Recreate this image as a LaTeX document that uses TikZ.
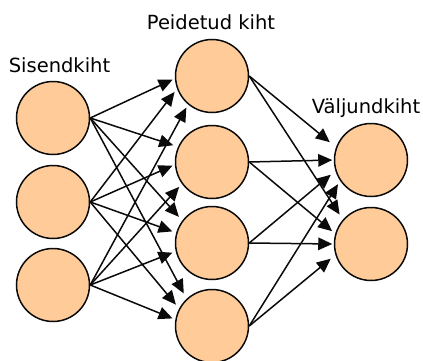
\documentclass[tikz,border=0pt]{standalone}
\usepackage{fontspec}
\setmainfont{DejaVu Sans}
\usetikzlibrary{arrows.meta}
\definecolor{peach}{RGB}{255,204,153}
\definecolor{ink}{RGB}{10,10,10}
\begin{document}
\begin{tikzpicture}[x=1pt,y=1pt,
  neuron/.style={circle,draw=ink,line width=1.5pt,fill=peach,minimum size=73pt,inner sep=0pt},
  conn/.style={draw=ink,line width=1.5pt,-{Triangle[length=14pt,width=12.5pt]}},
  lbl/.style={anchor=base,font=\fontsize{19.5}{22}\selectfont,inner sep=0pt}]
\useasboundingbox (0,0) rectangle (423,360);
% input layer
\node[neuron] (i1) at (53,242) {};
\node[neuron] (i2) at (53,158) {};
\node[neuron] (i3) at (53,75) {};
% hidden layer
\node[neuron] (h1) at (212,284) {};
\node[neuron] (h2) at (212,198) {};
\node[neuron] (h3) at (212,117) {};
\node[neuron] (h4) at (212,34) {};
% output layer
\node[neuron] (o1) at (371,200) {};
\node[neuron] (o2) at (371,116) {};
% labels
\node[lbl] (ls) at (59.5,288) {Sisendkiht};
\node[lbl] (lp) at (211,331) {Peidetud kiht};
\node[lbl] (lv) at (366,247) {Väljundkiht};
% input -> hidden
\draw[conn,shorten >=2.5pt] (i1.east) -- (h1.184);
\draw[conn,shorten >=4pt]   (i2.east) -- (h1.200);
\draw[conn,shorten >=3.5pt] (i3.east) -- (h1.230);
\draw[conn,shorten >=5pt]   (i1.east) -- (h2.156);
\draw[conn,shorten >=2.5pt] (i2.east) -- (h2.184);
\draw[conn,shorten >=4pt]   (i3.east) -- (h2.216);
\draw[conn,shorten >=5pt]   (i1.east) -- (h3.143);
\draw[conn,shorten >=4pt]   (i2.east) -- (h3.164);
\draw[conn,shorten >=3.5pt] (i3.east) -- (h3.193);
\draw[conn,shorten >=6pt]   (i1.east) -- (h4.133);
\draw[conn,shorten >=5pt]   (i2.east) -- (h4.152);
\draw[conn,shorten >=3pt]   (i3.east) -- (h4.170);
% hidden -> output
\draw[conn,shorten >=8pt]   (h1.east) -- (o1.160);
\draw[conn,shorten >=1.5pt] (h2.east) -- (o1.180);
\draw[conn,shorten >=6pt]   (h3.east) -- (o1.197);
\draw[conn,shorten >=4pt]   (h4.east) -- (o1.214);
\draw[conn,shorten >=6pt]   (h1.east) -- (o2.139);
\draw[conn,shorten >=4pt]   (h2.east) -- (o2.164);
\draw[conn,shorten >=1.5pt] (h3.east) -- (o2.180);
\draw[conn,shorten >=6pt]   (h4.east) -- (o2.197);
\end{tikzpicture}
\end{document}
